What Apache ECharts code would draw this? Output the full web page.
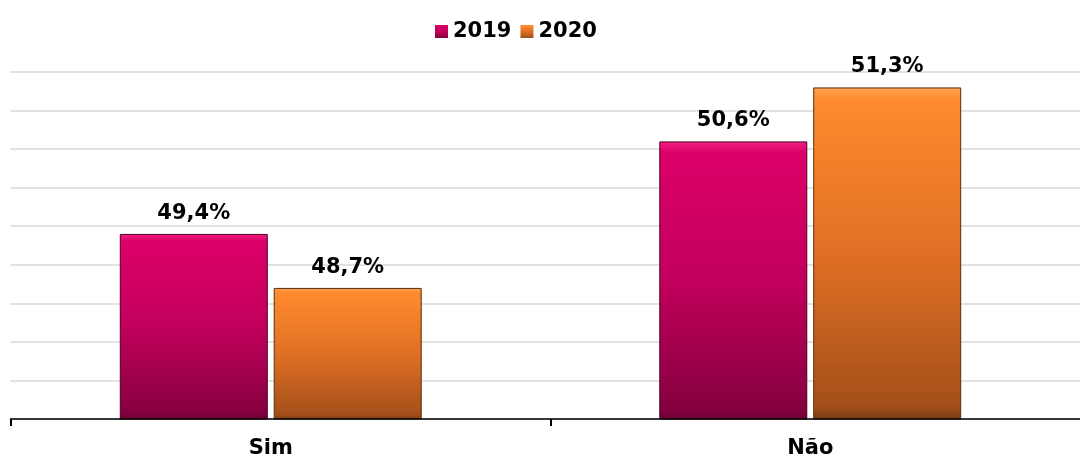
<!DOCTYPE html>
<html>
<head>
<meta charset="utf-8">
<script src="https://cdn.jsdelivr.net/npm/echarts@6/dist/echarts.min.js"></script>
<style>
html,body{margin:0;padding:0;background:#fff;}
#c{width:1080px;height:461px;}
</style>
</head>
<body>
<div id="c"></div>
<script>
const categories = ['Sim', 'Não'];
const seriesNames = ['2019', '2020'];
const values2019 = [49.4, 50.6];
const values2020 = [48.7, 51.3];

const FONT = 'DejaVu Sans';
const fmt = p => p.value.toFixed(1).replace('.', ',') + '%';

const pinkGrad = new echarts.graphic.LinearGradient(0, 0, 0, 1, [
  {offset: 0, color: '#F0207E'},
  {offset: 0.04, color: '#DC0068'},
  {offset: 0.5, color: '#C2005C'},
  {offset: 0.96, color: '#860040'},
  {offset: 1, color: '#6A0032'}
]);
const orangeGrad = new echarts.graphic.LinearGradient(0, 0, 0, 1, [
  {offset: 0, color: '#FFA350'},
  {offset: 0.04, color: '#FF8A2E'},
  {offset: 0.5, color: '#E07024'},
  {offset: 0.96, color: '#A4501A'},
  {offset: 1, color: '#7A3A10'}
]);

const chart = echarts.init(document.getElementById('c'), null, {renderer: 'canvas'});
const labelStyle = {
  show: true, position: 'top', distance: 10,
  formatter: fmt,
  fontFamily: FONT, fontWeight: 'bold', fontSize: 21, color: '#000'
};
chart.setOption({
  animation: false,
  backgroundColor: '#fff',
  legend: {
    top: 16, left: 430,
    itemWidth: 13, itemHeight: 13, itemGap: 9,
    icon: 'rect',
    itemStyle: {borderWidth: 0},
    textStyle: {fontFamily: FONT, fontWeight: 'bold', fontSize: 21, color: '#000'},
    data: seriesNames
  },
  grid: [
    {left: 10.5, right: 0, top: 72, bottom: 42},
    {left: 1, right: 0, top: 72, bottom: 42}
  ],
  xAxis: [
    {
      gridIndex: 0, type: 'value', min: 0, max: 1.98, interval: 1,
      axisLine: {show: true, lineStyle: {color: '#000', width: 1.5}},
      axisTick: {show: true, length: 7, customValues: [0, 1], lineStyle: {color: '#000', width: 2}},
      axisLabel: {show: false}, splitLine: {show: false}, z: 5
    },
    {
      gridIndex: 1, type: 'category', data: categories,
      axisLine: {show: false}, axisTick: {show: false},
      axisLabel: {fontFamily: FONT, fontWeight: 'bold', fontSize: 21, color: '#000', margin: 19}
    }
  ],
  yAxis: [
    {
      gridIndex: 0, type: 'value', min: 47, max: 51.5, interval: 0.5,
      axisLine: {show: false}, axisTick: {show: false}, axisLabel: {show: false},
      splitLine: {lineStyle: {color: '#D9D9D9', width: 1.5}}
    },
    {
      gridIndex: 1, type: 'value', min: 47, max: 51.5, interval: 0.5,
      axisLine: {show: false}, axisTick: {show: false}, axisLabel: {show: false},
      splitLine: {show: false}
    }
  ],
  series: [
    {
      name: seriesNames[0], type: 'bar', xAxisIndex: 1, yAxisIndex: 1,
      data: values2019, barWidth: 148, barGap: '4%',
      itemStyle: {color: pinkGrad, borderColor: '#4A0024', borderWidth: 1},
      label: labelStyle
    },
    {
      name: seriesNames[1], type: 'bar', xAxisIndex: 1, yAxisIndex: 1,
      data: values2020, barWidth: 148, barGap: '4%',
      itemStyle: {color: orangeGrad, borderColor: '#5A2C0A', borderWidth: 1},
      label: labelStyle
    }
  ]
});
</script>
</body>
</html>
